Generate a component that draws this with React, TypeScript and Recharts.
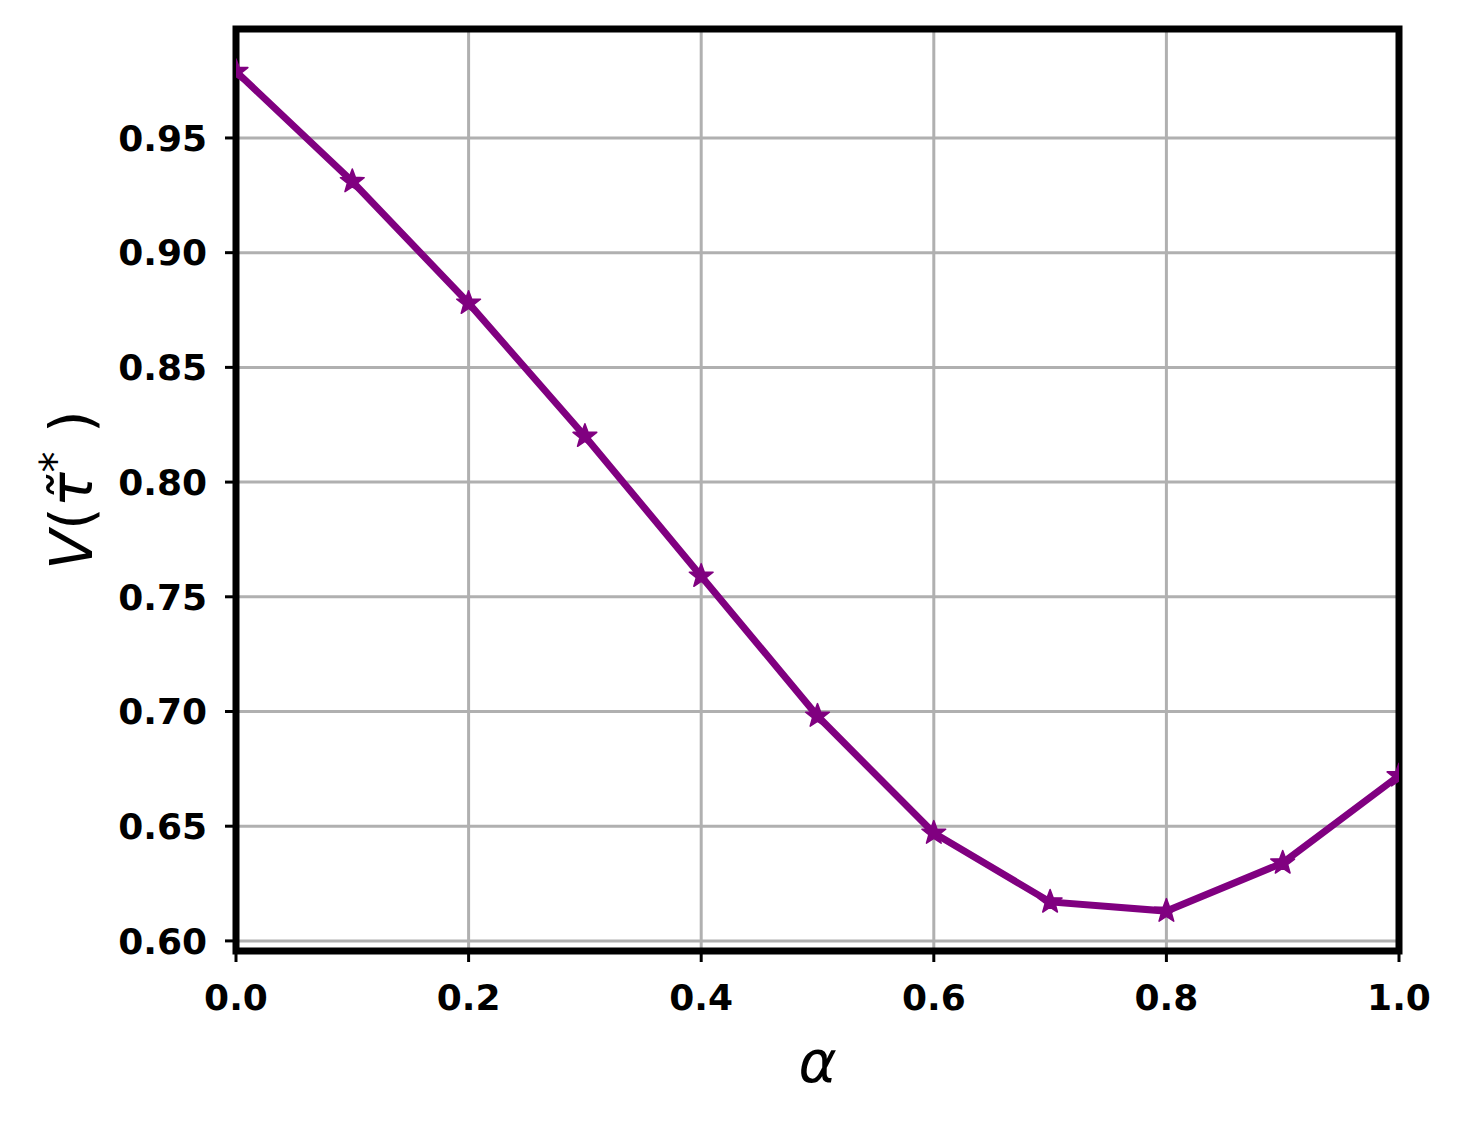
import React from "react";
import {
  LineChart,
  Line,
  XAxis,
  YAxis,
  CartesianGrid,
  ReferenceArea,
} from "recharts";

const alphas = [0, 0.1, 0.2, 0.3, 0.4, 0.5, 0.6, 0.7, 0.8, 0.9, 1.0];
const values = [0.979, 0.931, 0.878, 0.82, 0.759, 0.698, 0.647, 0.617, 0.613, 0.634, 0.672];
const xTicks = [0, 0.2, 0.4, 0.6, 0.8, 1.0];
const yTicks = [0.6, 0.65, 0.7, 0.75, 0.8, 0.85, 0.9, 0.95];

const data = alphas.map((a, i) => ({ alpha: a, v: values[i] }));

const PURPLE = "#800080";
const FONT = "'DejaVu Sans', sans-serif";

function Star(props: any) {
  const { cx, cy } = props;
  if (cx == null || cy == null) return null;
  const R = 12.5;
  const r = 5.2;
  let d = "";
  for (let k = 0; k < 10; k++) {
    const ang = -Math.PI / 2 + (k * Math.PI) / 5;
    const rad = k % 2 === 0 ? R : r;
    d += (k === 0 ? "M" : "L") + (cx + rad * Math.cos(ang)).toFixed(2) + "," + (cy + rad * Math.sin(ang)).toFixed(2);
  }
  return <path d={d + "Z"} fill={PURPLE} stroke={PURPLE} strokeWidth={1.5} strokeLinejoin="round" />;
}

export default function App() {
  return (
    <div style={{ position: "absolute", left: 0, top: 0, background: "#fff" }}>
      <LineChart
        width={1463}
        height={1125}
        data={data}
        margin={{ top: 29, right: 64, left: 0, bottom: 0 }}
      >
        <CartesianGrid stroke="#b0b0b0" strokeWidth={3} />
        <XAxis
          dataKey="alpha"
          type="number"
          domain={[0, 1]}
          ticks={xTicks}
          allowDataOverflow
          height={174}
          tickFormatter={(v: number) => v.toFixed(1)}
          tick={{ fill: "#000", fontSize: 36, fontWeight: "bold", fontFamily: FONT }}
          tickLine={{ stroke: "#000", strokeWidth: 3 }}
          tickSize={11}
          tickMargin={22}
          axisLine={false}
          label={({ viewBox }: any) => (
            <text
              x={viewBox.x + viewBox.width / 2}
              y={1082}
              textAnchor="middle"
              fontFamily={FONT}
              fontStyle="italic"
              fontSize={58}
              fill="#000"
            >
              α
            </text>
          )}
        />
        <YAxis
          type="number"
          domain={[0.5956, 0.9975]}
          ticks={yTicks}
          allowDataOverflow
          width={236}
          tickFormatter={(v: number) => v.toFixed(2)}
          tick={{ fill: "#000", fontSize: 36, fontWeight: "bold", fontFamily: FONT }}
          tickLine={{ stroke: "#000", strokeWidth: 3 }}
          tickSize={11}
          tickMargin={18}
          axisLine={false}
          label={() => (
            <text
              transform="translate(92,490) rotate(-90)"
              textAnchor="middle"
              fontFamily={FONT}
              fontSize={58}
              fill="#000"
            >
              <tspan fontStyle="italic">V</tspan>
              <tspan>(</tspan>
              <tspan fontStyle="italic">τ̃</tspan>
              <tspan dy={-22} fontSize={42}>*</tspan>
              <tspan dy={22}> )</tspan>
            </text>
          )}
        />
        <ReferenceArea
          x1={0}
          x2={1}
          y1={0.5956}
          y2={0.9975}
          fill="none"
          stroke="#000"
          strokeWidth={7}
          ifOverflow="visible"
        />
        <Line
          type="linear"
          dataKey="v"
          stroke={PURPLE}
          strokeWidth={7}
          dot={<Star />}
          activeDot={false}
          isAnimationActive={false}
        />
      </LineChart>
    </div>
  );
}
